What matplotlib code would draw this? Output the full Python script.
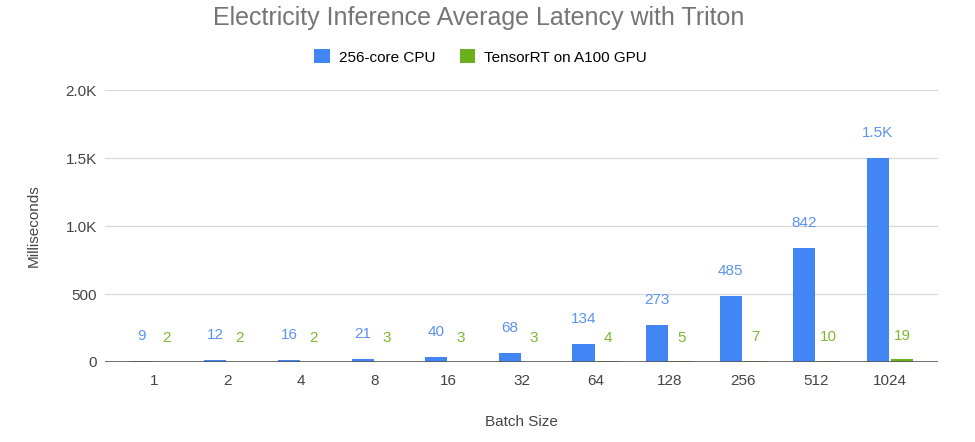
import numpy as np
import matplotlib.pyplot as plt
from matplotlib.ticker import FuncFormatter

batch_sizes = ['1', '2', '4', '8', '16', '32', '64', '128', '256', '512', '1024']
cpu_ms = [9, 12, 16, 21, 40, 68, 134, 273, 485, 842, 1500]
gpu_ms = [2, 2, 2, 3, 3, 3, 4, 5, 7, 10, 19]
cpu_labels = ['9', '12', '16', '21', '40', '68', '134', '273', '485', '842', '1.5K']
gpu_labels = ['2', '2', '2', '3', '3', '3', '4', '5', '7', '10', '19']

blue = '#4285f4'
green = '#6aaf1e'

plt.rcParams['font.family'] = ['Liberation Sans', 'DejaVu Sans']

fig = plt.figure(figsize=(9.75, 4.42), dpi=100)
ax = fig.add_axes([0.108, 0.181, 0.854, 0.615])

x = np.arange(len(batch_sizes))
w = 0.30
off = 0.165
ax.bar(x - off, cpu_ms, w, color=blue, label='256-core CPU', zorder=3)
ax.bar(x + off, gpu_ms, w, color=green, label='TensorRT on A100 GPU', zorder=3)

for i in range(len(x)):
    ax.annotate(cpu_labels[i], (x[i] - off, cpu_ms[i]), xytext=(0, 18),
                textcoords='offset points', ha='center', va='center',
                color='#5b93f0', fontsize=11)
    ax.annotate(gpu_labels[i], (x[i] + off, gpu_ms[i]), xytext=(0, 17),
                textcoords='offset points', ha='center', va='center',
                color='#7cb832', fontsize=11)

ax.set_ylim(0, 2000)
ax.set_yticks([0, 500, 1000, 1500, 2000])
ax.yaxis.set_major_formatter(FuncFormatter(
    lambda v, p: f'{v/1000:.1f}K' if v >= 1000 else f'{int(v)}'))
ax.set_xlim(-0.66, 10.65)
ax.set_xticks(x)
ax.set_xticklabels(batch_sizes)

ax.grid(axis='y', color='#d9d9d9', linewidth=0.9, zorder=0)
ax.axhline(0, color='#555555', linewidth=1.2, zorder=4)
for s in ax.spines.values():
    s.set_visible(False)
ax.tick_params(length=0, labelsize=11, labelcolor='#444444')
ax.tick_params(axis='x', pad=9)
ax.tick_params(axis='y', pad=6)

ax.set_ylabel('Milliseconds', fontsize=11, color='#444444', labelpad=18)
ax.set_xlabel('Batch Size', fontsize=11, color='#444444', labelpad=19)

fig.text(0.491, 0.960, 'Electricity Inference Average Latency with Triton',
         ha='center', va='center', fontsize=18, color='#757575')
fig.legend(loc='center', bbox_to_anchor=(0.493, 0.871), ncol=2, frameon=False,
           fontsize=11, handlelength=1.0, handleheight=1.0, columnspacing=1.6,
           handletextpad=0.6)

fig.savefig('out.png', dpi=100)
